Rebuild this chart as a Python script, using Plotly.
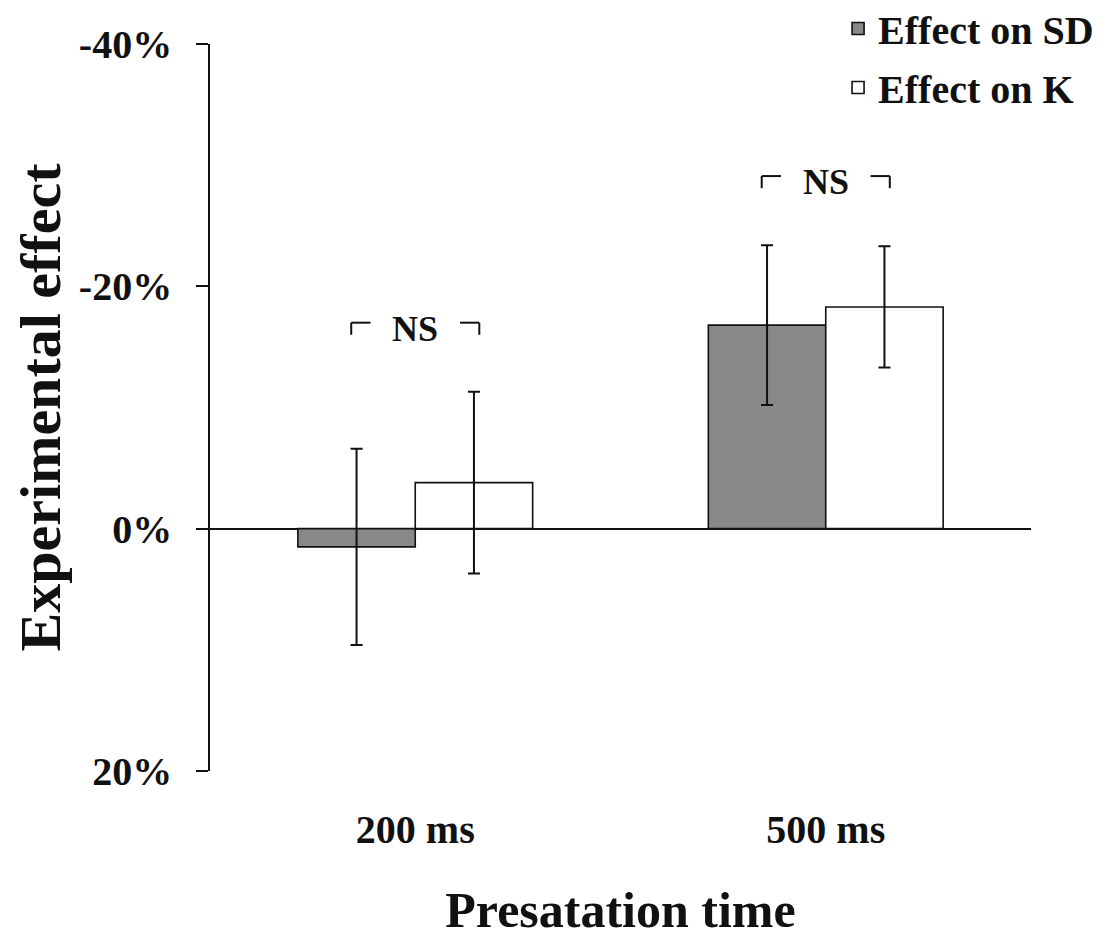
import plotly.graph_objects as go

categories = ["200 ms", "500 ms"]
sd_values = [1.5, -16.8]
sd_errors = [8.1, 6.6]
k_values = [-3.8, -18.3]
k_errors = [7.5, 5.0]
y_tick_vals = [-40, -20, 0, 20]
y_tick_text = ["-40%", "-20%", "0%", "20%"]
sig_labels = ["NS", "NS"]

FONT = "Liberation Serif"
INK = "#111111"
xs = list(range(len(categories)))

fig = go.Figure()
fig.add_trace(go.Bar(
    x=xs, y=sd_values, name="Effect on SD", legendgroup="sd",
    marker=dict(color="#888888", line=dict(color=INK, width=1.6)),
    error_y=dict(type="data", array=sd_errors, color=INK, thickness=2, width=6),
))
fig.add_trace(go.Bar(
    x=xs, y=k_values, name="Effect on K", legendgroup="k",
    marker=dict(color="#ffffff", line=dict(color=INK, width=1.6)),
    error_y=dict(type="data", array=k_errors, color=INK, thickness=2, width=6),
))

# NS annotations with brackets above each group
for i, lab in enumerate(sig_labels):
    top = min(sd_values[i] - sd_errors[i], k_values[i] - k_errors[i])
    yc = top - 5.2
    fig.add_annotation(x=xs[i], y=yc, text=f"<b>{lab}</b>", showarrow=False,
                       font=dict(family=FONT, size=36, color=INK))
    for side in (-1, 1):
        outer = xs[i] + side * 0.156
        inner = xs[i] + side * 0.109
        fig.add_shape(type="line", x0=outer, x1=inner, y0=yc - 0.5, y1=yc - 0.5,
                      line=dict(color=INK, width=2))
        fig.add_shape(type="line", x0=outer, x1=outer, y0=yc - 0.5, y1=yc + 0.5,
                      line=dict(color=INK, width=2))

fig.update_layout(
    width=1111, height=930,
    margin=dict(l=202, r=88, t=36, b=167, autoexpand=False),
    paper_bgcolor="white", plot_bgcolor="white",
    barmode="group", bargap=0.428, bargroupgap=0,
    font=dict(family=FONT, color=INK),
    showlegend=True,
    legend=dict(xref="paper", yref="paper", x=0.765, xanchor="left",
                y=1.066, yanchor="top", traceorder="grouped", tracegroupgap=4,
                font=dict(family=FONT, size=40, color=INK, weight="bold"),
                bgcolor="rgba(0,0,0,0)", itemwidth=30),
    xaxis=dict(range=[-0.5, 1.5], tickmode="array", tickvals=xs, ticktext=categories,
               showline=False, showgrid=False, zeroline=False, ticks="",
               tickfont=dict(family=FONT, size=40, color=INK, weight="bold"),
               ticklabelstandoff=31,
               title=dict(text="Presatation time", standoff=44,
                          font=dict(family=FONT, size=50, color=INK, weight="bold"))),
    yaxis=dict(range=[20, -40], tickmode="array", tickvals=y_tick_vals, ticktext=y_tick_text,
               showline=True, linecolor=INK, linewidth=1.6, showgrid=False,
               zeroline=True, zerolinecolor=INK, zerolinewidth=1.6,
               ticks="outside", ticklen=12, tickwidth=1.6, tickcolor=INK,
               ticklabelstandoff=16,
               tickfont=dict(family=FONT, size=40, color=INK, weight="bold"),
               title=dict(text="Experimental effect", standoff=18,
                          font=dict(family=FONT, size=58, color=INK, weight="bold"))),
)

fig.write_html("out.html")
